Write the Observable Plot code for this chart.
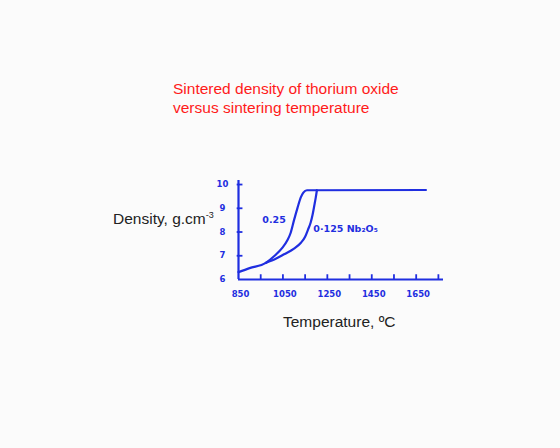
<!DOCTYPE html>
<html>
<head>
<meta charset="utf-8">
<script src="https://cdn.jsdelivr.net/npm/d3@7"></script>
<script src="https://cdn.jsdelivr.net/npm/@observablehq/plot@0.6"></script>
<style>
  html, body { margin: 0; padding: 0; background: #fbfbfb; }
  #wrap { position: relative; width: 560px; height: 448px; background: #fbfbfb; overflow: hidden; }
  #wrap svg { position: absolute; left: 0; top: 0; }
  .t { position: absolute; font-family: "Liberation Sans", Arial, sans-serif; white-space: nowrap; }
  #title { left: 173px; top: 79px; color: #ff1a1a; font-size: 15.5px; line-height: 19px; }
  #ylab { left: 113px; top: 210px; color: #222; font-size: 15.5px; }
  #ylab sup { font-size: 9px; vertical-align: 6px; line-height: 0; }
  #xlab { left: 283px; top: 313px; color: #222; font-size: 15.5px; }
</style>
</head>
<body>
<div id="wrap">
  <div class="t" id="title">Sintered density of thorium oxide<br>versus sintering temperature</div>
  <div class="t" id="ylab">Density, g.cm<sup>-3</sup></div>
  <div class="t" id="xlab">Temperature, ºC</div>
</div>
<script>
// Data
const xTicks = [950, 1050, 1150, 1250, 1350, 1450, 1550, 1650, 1750];
const xTickLabels = [850, 1050, 1250, 1450, 1650];
const yTicks = [7, 8, 9, 10];
const yTickLabels = [6, 7, 8, 9, 10];

const tempA = [850, 900, 973, 1010, 1048, 1070, 1085, 1100, 1116, 1130, 1142, 1158, 1694];
const densA = [6.31, 6.48, 6.70, 6.98, 7.34, 7.65, 7.97, 8.5, 9.03, 9.45, 9.66, 9.76, 9.77];
const tempB = [973, 1020, 1055, 1100, 1131, 1150, 1163, 1175, 1184, 1192, 1198, 1203];
const densB = [6.70, 6.88, 7.06, 7.30, 7.55, 7.80, 8.1, 8.4, 8.75, 9.15, 9.46, 9.76];

const seriesLabels = [
  {x: 1010, y: 8.5, text: "0.25"},
  {x: 1332, y: 8.12, text: "0·125 Nb₂O₅"}
];

const blue = "#1f2ee0";
const lineA = tempA.map((t, i) => ({t, d: densA[i]}));
const lineB = tempB.map((t, i) => ({t, d: densB[i]}));

const chart = Plot.plot({
  width: 560,
  height: 448,
  marginLeft: 238,
  marginRight: 117,
  marginTop: 180,
  marginBottom: 169,
  style: {background: "transparent", overflow: "visible"},
  x: {domain: [850, 1773], axis: null},
  y: {domain: [6, 10.17], axis: null},
  marks: [
    Plot.ruleY([6], {x1: 850, x2: 1773, stroke: blue, strokeWidth: 2.2}),
    Plot.ruleX([850], {y1: 6, y2: 10.17, stroke: blue, strokeWidth: 2.2}),
    Plot.ruleX(xTicks, {x: d => d, y1: 6, y2: 6.2, stroke: blue, strokeWidth: 1.8}),
    Plot.ruleY(yTicks, {y: d => d, x1: 844, x2: 870, stroke: blue, strokeWidth: 1.8}),
    Plot.text(xTickLabels, {x: d => d, y: 6, dy: 15, dx: 2, text: d => String(d), fill: blue,
      fontFamily: "DejaVu Sans", fontWeight: "bold", fontSize: 8.5}),
    Plot.text(yTickLabels, {x: 850, y: d => d, dx: -16, text: d => String(d), fill: blue,
      fontFamily: "DejaVu Sans", fontWeight: "bold", fontSize: 8.5}),
    Plot.line(lineA, {x: "t", y: "d", stroke: blue, strokeWidth: 2.2, curve: "monotone-x"}),
    Plot.line(lineB, {x: "t", y: "d", stroke: blue, strokeWidth: 2.2, curve: "monotone-x"}),
    Plot.text(seriesLabels, {x: "x", y: "y", text: "text", fill: blue, textAnchor: "middle",
      fontFamily: "DejaVu Sans", fontWeight: "bold", fontSize: 9.5})
  ]
});
document.getElementById("wrap").appendChild(chart);
</script>
</body>
</html>
